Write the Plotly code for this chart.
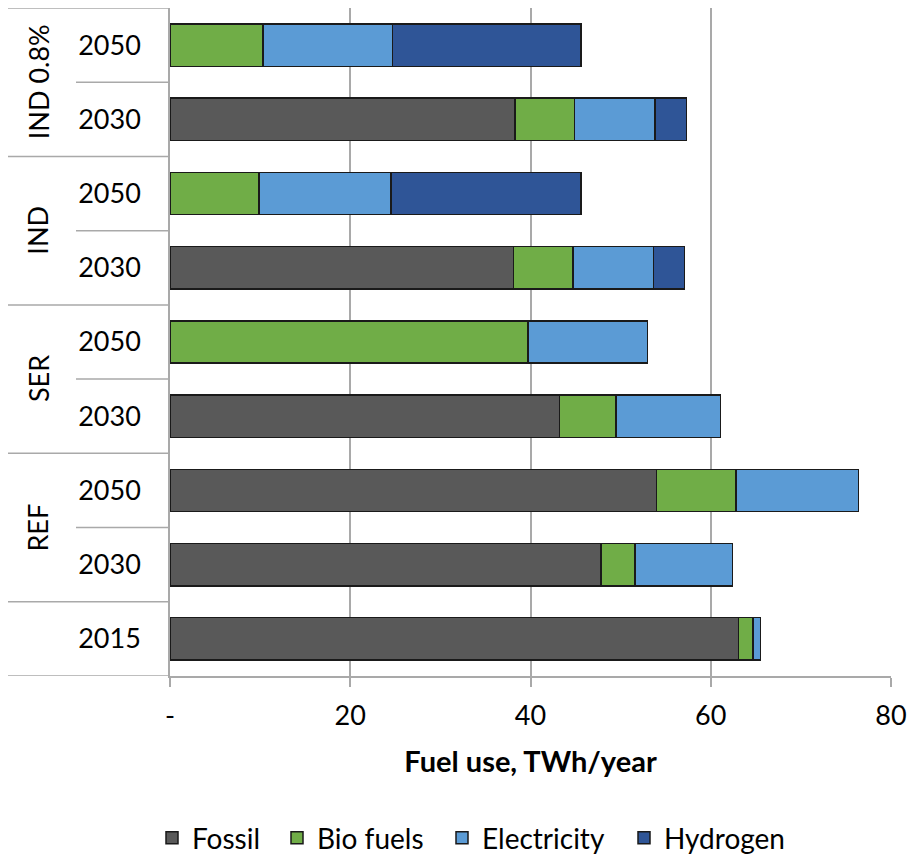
import plotly.graph_objects as go

# Scenario groups and years (bottom to top)
groups = ["", "REF", "REF", "SER", "SER", "IND", "IND", "IND 0.8%", "IND 0.8%"]
years = ["2015", "2030", "2050", "2030", "2050", "2030", "2050", "2030", "2050"]

# Fuel use per energy carrier, TWh/year (None = carrier not used)
fossil = [63.1, 47.8, 54.0, 43.2, None, 38.1, None, 38.3, None]
bio_fuels = [1.6, 3.8, 8.8, 6.3, 39.7, 6.6, 9.9, 6.6, 10.3]
electricity = [0.8, 10.8, 13.6, 11.6, 13.3, 8.95, 14.6, 8.9, 14.4]
hydrogen = [None, None, None, None, None, 3.45, 21.1, 3.5, 20.9]

series = [
    ("Fossil", fossil, "#595959"),
    ("Bio fuels", bio_fuels, "#70AD47"),
    ("Electricity", electricity, "#5B9BD5"),
    ("Hydrogen", hydrogen, "#2F5597"),
]

x_ticks = [0, 20, 40, 60, 80]
x_tick_text = ["-", "20", "40", "60", "80"]

FONT = "Lato, 'Open Sans', sans-serif"
GRID = "#a9a9a9"
OUTLINE = "#1a1a1a"

L, R, T, B = 170, 20, 8, 180
W, H = 911, 856
plot_w = W - L - R

# Left edge (px) of each legend entry
legend_left_px = [152, 277, 442, 624]

pos = list(range(len(years)))

fig = go.Figure()
for i, (name, vals, color) in enumerate(series):
    fig.add_trace(go.Bar(
        name=name,
        y=pos,
        x=vals,
        orientation="h",
        width=0.57,
        showlegend=True,
        legend="legend" if i == 0 else f"legend{i + 1}",
        marker=dict(color=color, line=dict(color=OUTLINE, width=1.5)),
    ))

# Separator lines of the two-level category axis
outer_x0 = (8 - L) / plot_w
inner_x0 = (76 - L) / plot_w
shapes = []
for k in range(len(years) + 1):
    yb = k - 0.5
    below = groups[k - 1] if k > 0 else None
    above = groups[k] if k < len(groups) else None
    x0 = inner_x0 if (below is not None and above is not None and below == above) else outer_x0
    shapes.append(dict(type="line", xref="paper", yref="y", x0=x0, x1=0,
                       y0=yb, y1=yb, line=dict(color=GRID, width=1.5), layer="below"))

# Rotated scenario labels
annotations = []
seen = []
for g in groups:
    if g and g not in seen:
        seen.append(g)
for g in seen:
    idx = [i for i, gg in enumerate(groups) if gg == g]
    annotations.append(dict(
        x=(38 - L) / plot_w, xref="paper", y=sum(idx) / len(idx), yref="y",
        text=g, textangle=-90, showarrow=False,
        font=dict(family=FONT, size=27, color="#000000"),
        xanchor="center", yanchor="middle",
    ))

legend_y = (H - B - 838) / (H - T - B)
legends = {}
for i, px in enumerate(legend_left_px):
    key = "legend" if i == 0 else f"legend{i + 1}"
    legends[key] = dict(
        orientation="h", x=(px - L) / plot_w, xanchor="left",
        y=legend_y, yanchor="middle",
        font=dict(family=FONT, size=28),
        itemclick=False, itemdoubleclick=False, itemwidth=30,
    )

fig.update_layout(
    width=W, height=H,
    margin=dict(l=L, r=R, t=T, b=B, autoexpand=False),
    paper_bgcolor="white", plot_bgcolor="white",
    barmode="stack",
    bargap=0.43,
    showlegend=True,
    font=dict(family=FONT, size=27, color="#000000"),
    shapes=shapes,
    annotations=annotations,
    xaxis=dict(
        range=[0, 80], tickvals=x_ticks, ticktext=x_tick_text,
        showgrid=True, gridcolor=GRID, gridwidth=1.5,
        zeroline=False, showline=True, linecolor=GRID, linewidth=1.5,
        ticks="outside", ticklen=9, tickcolor=GRID, tickwidth=1.5,
        ticklabelstandoff=6,
        tickfont=dict(family=FONT, size=27),
        title=dict(text="<b>Fuel use, TWh/year</b>", font=dict(family=FONT, size=29), standoff=22),
    ),
    yaxis=dict(
        range=[-0.5, len(years) - 0.5], tickvals=pos, ticktext=years,
        showgrid=False, zeroline=False, showline=True, linecolor=GRID, linewidth=1.5,
        ticks="", ticklabelstandoff=22,
        tickfont=dict(family=FONT, size=27),
    ),
    **legends,
)

fig.write_html("out.html")
